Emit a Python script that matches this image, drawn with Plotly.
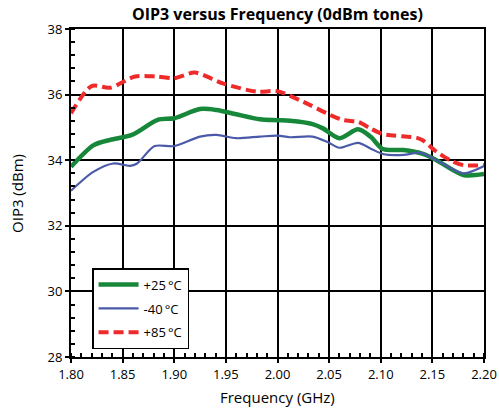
import plotly.graph_objects as go

freq_25 = [1.80, 1.822, 1.838, 1.859, 1.884, 1.90, 1.925, 1.941, 1.96, 1.983, 2.00, 2.012, 2.034, 2.044, 2.06, 2.078, 2.09, 2.102, 2.122, 2.141, 2.154, 2.18, 2.20]
oip3_25 = [33.8, 34.46, 34.62, 34.77, 35.23, 35.28, 35.56, 35.53, 35.4, 35.25, 35.22, 35.2, 35.1, 34.97, 34.67, 34.94, 34.72, 34.34, 34.31, 34.19, 34.0, 33.55, 33.58]

freq_m40 = [1.80, 1.822, 1.841, 1.857, 1.864, 1.881, 1.90, 1.925, 1.941, 1.96, 1.983, 2.00, 2.012, 2.034, 2.048, 2.06, 2.078, 2.09, 2.102, 2.122, 2.138, 2.154, 2.18, 2.20]
oip3_m40 = [33.07, 33.65, 33.9, 33.83, 33.9, 34.43, 34.43, 34.72, 34.77, 34.67, 34.72, 34.75, 34.7, 34.72, 34.56, 34.38, 34.53, 34.36, 34.19, 34.16, 34.23, 34.0, 33.6, 33.82]

freq_85 = [1.80, 1.820, 1.838, 1.862, 1.883, 1.90, 1.92, 1.947, 1.98, 2.00, 2.025, 2.051, 2.064, 2.078, 2.09, 2.102, 2.135, 2.141, 2.154, 2.167, 2.18, 2.20]
oip3_85 = [35.43, 36.26, 36.21, 36.55, 36.55, 36.5, 36.67, 36.34, 36.09, 36.1, 35.78, 35.38, 35.22, 35.17, 34.97, 34.8, 34.68, 34.6, 34.26, 34.0, 33.85, 33.85]

x_ticks = [1.80, 1.85, 1.90, 1.95, 2.00, 2.05, 2.10, 2.15, 2.20]
y_ticks = [28, 30, 32, 34, 36, 38]

FONT = "Open Sans"

fig = go.Figure()
fig.add_trace(go.Scatter(x=freq_25, y=oip3_25, mode="lines", name="+25\u2009°C", legendgroup="a",
                         line=dict(color="#17873a", width=4.5, shape="spline", smoothing=0.8)))
fig.add_trace(go.Scatter(x=freq_m40, y=oip3_m40, mode="lines", name="-40\u2009°C", legendgroup="b",
                         line=dict(color="#4a5aa8", width=2.2, shape="spline", smoothing=0.8)))
fig.add_trace(go.Scatter(x=freq_85, y=oip3_85, mode="lines", name="+85\u2009°C", legendgroup="c",
                         line=dict(color="#ee2a2a", width=4, dash="10px,5px", shape="spline", smoothing=0.8)))

fig.update_layout(
    width=499, height=410,
    margin=dict(l=71, r=15, t=29, b=53, autoexpand=False),
    paper_bgcolor="white", plot_bgcolor="white",
    title=dict(text="<b>OIP3 versus Frequency (0dBm tones)</b>", x=0.556, xanchor="center",
               y=0.966, yanchor="middle", font=dict(family=FONT, size=16, color="black")),
    font=dict(family=FONT, size=12, color="black"),
    legend=dict(x=0.051, y=0.271, xanchor="left", yanchor="top",
                bgcolor="white", bordercolor="black", borderwidth=1.5,
                font=dict(family=FONT, size=13, color="black"),
                tracegroupgap=4, itemwidth=40),
    xaxis=dict(range=[1.80, 2.20], tickvals=x_ticks, ticktext=[f"{v:.2f}" for v in x_ticks],
               automargin=False,
               showgrid=True, gridcolor="black", gridwidth=1.5,
               showline=True, linecolor="black", linewidth=2, mirror=True,
               ticks="outside", ticklen=4, tickcolor="black", tickwidth=1.5,
               minor=dict(dtick=0.01, ticks="inside", ticklen=4, tickcolor="black", showgrid=False),
               zeroline=False, tickfont=dict(size=13)),
    yaxis=dict(range=[28, 38], tickvals=y_ticks, automargin=False,
               showgrid=True, gridcolor="black", gridwidth=1.5,
               showline=True, linecolor="black", linewidth=2, mirror=True,
               ticks="outside", ticklen=4, tickcolor="black", tickwidth=1.5,
               minor=dict(dtick=0.4, tick0=28, ticks="inside", ticklen=4, tickcolor="black", showgrid=False),
               zeroline=False, tickfont=dict(size=13)),
    annotations=[
        dict(text="Frequency (GHz)", xref="paper", yref="paper", x=0.5, y=-0.122,
             xanchor="center", yanchor="middle", showarrow=False, font=dict(size=15, family=FONT)),
        dict(text="OIP3 (dBm)", xref="paper", yref="paper", x=-0.1308, y=0.5, textangle=-90,
             xanchor="center", yanchor="middle", showarrow=False, font=dict(size=15, family=FONT)),
    ],
)

fig.write_html("out.html", config={"displayModeBar": False},
               post_script="document.body.style.margin='0';document.body.style.overflow='hidden';")
